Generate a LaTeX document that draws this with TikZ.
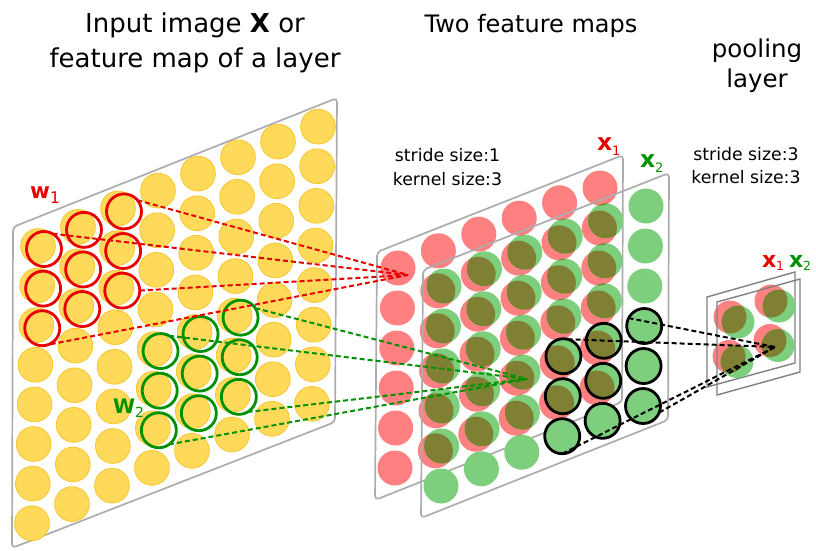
\documentclass[tikz,border=0pt]{standalone}
\usepackage{fontspec}
\setmainfont{DejaVu Sans}
\definecolor{ycfill}{RGB}{255,217,90}
\definecolor{ycline}{RGB}{246,196,40}
\definecolor{kred}{RGB}{232,0,0}
\definecolor{kgreen}{RGB}{0,145,0}
\definecolor{fred}{RGB}{255,128,128}
\definecolor{fgreen}{RGB}{125,206,125}
\definecolor{folive}{RGB}{128,128,52}
\definecolor{pgray}{RGB}{172,172,172}
\definecolor{pdgray}{RGB}{128,128,128}
\begin{document}
\begin{tikzpicture}[x=1pt,y=-1pt,
  declare function={
    yx(\a,\b)=38+40*\a-0.86*\b;
    yy(\a,\b)=246-19.5*\a+0.35*\a*\a+39.6*\b;
    rx(\a,\b)=398+40.4*\a-0.6*\b;
    ry(\a,\b)=268-17.5*\a+0.3*\a*\a+40*\b;
    px(\a,\b)=730+41*\a-1*\b;
    py(\a,\b)=317-16*\a+39.5*\b;
  },
  plane/.style={draw=pgray, line width=1.7pt, rounded corners=4pt},
  smallplane/.style={draw=pdgray, line width=1.4pt},
  ring/.style={circle, draw=#1, line width=2.8pt, minimum size=35pt, inner sep=0pt, outer sep=0pt},
  dashline/.style={draw=#1, line width=2pt, dash pattern=on 5pt off 3pt},
  lbl/.style={anchor=base west, inner sep=0pt, outer sep=0pt},
  ttl/.style={anchor=base, inner sep=0pt, outer sep=0pt}
]
\useasboundingbox (0,0) rectangle (816,550);

% titles
\node[ttl, font=\fontsize{26}{26}\selectfont] (t1) at (195,32) {Input image \textbf{X} or};
\node[ttl, font=\fontsize{26}{26}\selectfont] (t2) at (195,67) {feature map of a layer};
\node[ttl, font=\fontsize{24}{24}\selectfont] (t3) at (531,32) {Two feature maps};
\node[ttl, font=\fontsize{24.5}{24.5}\selectfont] (t4) at (757,57) {pooling};
\node[ttl, font=\fontsize{24.5}{24.5}\selectfont] (t5) at (757,87) {layer};
\node[ttl, font=\fontsize{17.3}{17.3}\selectfont] (s1) at (447.5,161) {stride size:1};
\node[ttl, font=\fontsize{17.3}{17.3}\selectfont] (s2) at (447.5,185) {kernel size:3};
\node[ttl, font=\fontsize{17.3}{17.3}\selectfont] (s3) at (746,160) {stride size:3};
\node[ttl, font=\fontsize{17.3}{17.3}\selectfont] (s4) at (746,183) {kernel size:3};

% input plane
\draw[plane] (13,227) -- (337,98) -- (335,422) -- (12,548) -- cycle;
\foreach \i in {0,...,7}
  \foreach \j in {0,...,7}
    \path[fill=ycfill, draw=ycline, line width=0.7pt] ({yx(\i,\j)},{yy(\i,\j)}) circle[radius=17.4];

% kernel rings
\foreach \i in {0,1,2}
  \foreach \j in {0,1,2}
    \node[ring=kred] (r\i\j) at ({yx(\i,\j)+6},{yy(\i,\j)+3}) {};
\foreach \i in {3,4,5}
  \foreach \j in {4,5,6}
    \node[ring=kgreen] (g\i\j) at ({yx(\i,\j)+6},{yy(\i,\j)+2}) {};

\node[lbl, text=kred, font=\fontsize{21.5}{21.5}\selectfont] (w1) at (30,198)
  {\textbf{w}\raisebox{-5pt}{\fontsize{16}{16}\selectfont 1}};
\node[lbl, text=kgreen, font=\fontsize{20}{20}\selectfont] (w2) at (113,413)
  {\textbf{W}\raisebox{-4pt}{\fontsize{14}{14}\selectfont 2}};

% feature maps
\draw[plane] (377,252) -- (623,155) -- (622,402) -- (375,500) -- cycle;
\foreach \i in {0,...,5}
  \foreach \j in {0,...,5}
    \fill[fred] ({rx(\i,\j)},{ry(\i,\j)}) circle[radius=17.5];
\draw[plane] (423,270) -- (669,173) -- (668,420) -- (421,518) -- cycle;
\foreach \i in {0,...,5}
  \foreach \j in {0,...,5}
    \fill[fgreen] ({rx(\i,\j)+46},{ry(\i,\j)+18}) circle[radius=17.5];
\begin{scope}
  \clip \foreach \i in {0,...,5} { \foreach \j in {0,...,5} { ({rx(\i,\j)},{ry(\i,\j)}) circle[radius=17.5] } };
  \fill[folive] \foreach \i in {0,...,5} { \foreach \j in {0,...,5} { ({rx(\i,\j)+46},{ry(\i,\j)+18}) circle[radius=17.5] } };
\end{scope}
\foreach \i in {3,4,5}
  \foreach \j in {3,4,5}
    \node[ring=black] (b\i\j) at ({rx(\i,\j)+46},{ry(\i,\j)+18}) {};

\node[lbl, text=kred, font=\fontsize{23.5}{23.5}\selectfont] (x1) at (597,150)
  {\textbf{x}\raisebox{-5pt}{\fontsize{13}{13}\selectfont 1}};
\node[lbl, text=kgreen, font=\fontsize{23.5}{23.5}\selectfont] (x2) at (640,167)
  {\textbf{x}\raisebox{-5pt}{\fontsize{13}{13}\selectfont 2}};

% pooling layer
\draw[smallplane] (707,297) -- (795,272) -- (795,363) -- (707,387) -- cycle;
\foreach \i in {0,1}
  \foreach \j in {0,1}
    \fill[fred] ({px(\i,\j)},{py(\i,\j)}) circle[radius=16.5];
\draw[smallplane] (717,302) -- (800,279) -- (800,372) -- (717,395) -- cycle;
\foreach \i in {0,1}
  \foreach \j in {0,1}
    \fill[fgreen] ({px(\i,\j)+8},{py(\i,\j)+5}) circle[radius=16.5];
\begin{scope}
  \clip \foreach \i in {0,1} { \foreach \j in {0,1} { ({px(\i,\j)},{py(\i,\j)}) circle[radius=16.5] } };
  \fill[folive] \foreach \i in {0,1} { \foreach \j in {0,1} { ({px(\i,\j)+8},{py(\i,\j)+5}) circle[radius=16.5] } };
\end{scope}
\node[lbl, text=kred, font=\fontsize{22}{22}\selectfont] (px1) at (762,267)
  {\textbf{x}\raisebox{-3pt}{\fontsize{12.5}{12.5}\selectfont 1}};
\node[lbl, text=kgreen, font=\fontsize{22}{22}\selectfont] (px2) at (789,267)
  {\textbf{x}\raisebox{-3pt}{\fontsize{12.5}{12.5}\selectfont 2}};

% connectors
\coordinate (rt) at (408,275);
\coordinate (gt) at (527,379);
\coordinate (bt) at (775,347);
\draw[dashline=kred] (r00.61) -- (rt);
\draw[dashline=kred] (r20.40) -- (rt);
\draw[dashline=kred] (r22.0) -- (rt);
\draw[dashline=kred] (r02.-88) -- (rt);
\draw[dashline=kgreen] (g34.61) -- (gt);
\draw[dashline=kgreen] (g54.33) -- (gt);
\draw[dashline=kgreen] (g56.-60) -- (gt);
\draw[dashline=kgreen] (g36.-54) -- (gt);
\draw[dashline=black] (b33.76) -- (bt);
\draw[dashline=black] (b53.153) -- (bt);
\draw[dashline=black] (b35.-90) -- (bt);
\draw[dashline=black] (b55.-22) -- (bt);
\end{tikzpicture}
\end{document}
